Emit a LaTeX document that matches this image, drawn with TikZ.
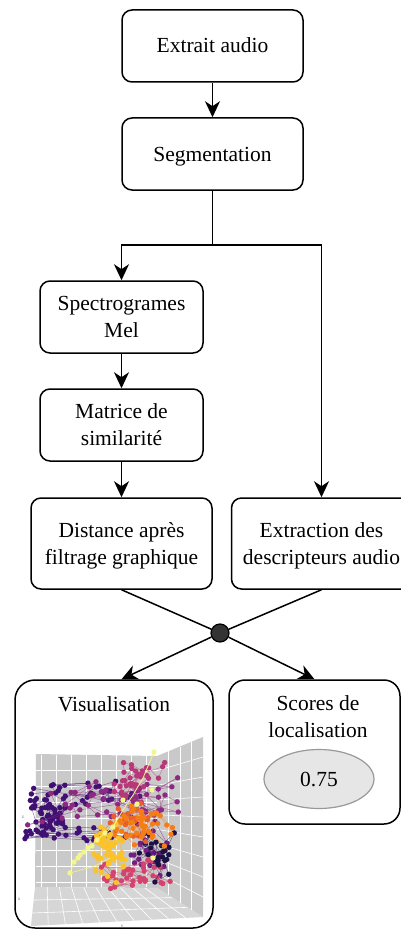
\documentclass[tikz,border=0pt]{standalone}
\usepackage{fontspec}
\setmainfont{Liberation Serif}
\usetikzlibrary{arrows.meta,shapes.geometric,calc}
\definecolor{hubgray}{HTML}{333333}
\definecolor{ellfill}{HTML}{E6E6E6}
\definecolor{ellline}{HTML}{999999}
\definecolor{panelgray}{HTML}{C9C9C9}
\definecolor{floorgray}{HTML}{D6D6D6}
\definecolor{axisblue}{HTML}{6070A0}
\definecolor{cdark}{HTML}{3F0F72}
\definecolor{cpurple}{HTML}{721F81}
\definecolor{cmagenta}{HTML}{8C2981}
\definecolor{cpink}{HTML}{B73779}
\definecolor{ccrimson}{HTML}{D3436E}
\definecolor{cblack}{HTML}{1C1044}
\definecolor{corange}{HTML}{F57D15}
\definecolor{cred}{HTML}{E65D2F}
\definecolor{cyellow}{HTML}{FCC229}
\definecolor{cpale}{HTML}{F3F68B}
\newcommand\tstrut{\rule[-5pt]{0pt}{24pt}}
\newcommand\netwalk[6]{% color, cx, cy, sx, sy, n
  \xdef\wpx{#2}\xdef\wpy{#3}%
  \foreach \k in {1,...,#6}{%
    \pgfmathsetmacro\wnx{#2+0.6*(\wpx-#2)+#4*rand}%
    \pgfmathsetmacro\wny{#3+0.6*(\wpy-#3)+#5*rand}%
    \draw[draw=#1,line width=0.5pt,opacity=0.55] (\wpx,\wpy) -- (\wnx,\wny);
    \fill[#1] (\wnx,\wny) circle[radius=2.7pt];
    \xdef\wpx{\wnx}\xdef\wpy{\wny}%
  }%
}
\tikzset{
  stepbox/.style={draw=black, line width=1.5pt, rounded corners=10pt, inner sep=0pt,
    align=center, fill=white, font=\fontsize{21.5pt}{27pt}\selectfont},
  plaintext/.style={align=center, inner sep=0pt, font=\fontsize{21.5pt}{27pt}\selectfont},
  conn/.style={line width=1.5pt, draw=black},
  arr/.style={conn, -{Stealth[length=16pt,width=15pt,inset=5pt]}},
  gridline/.style={draw=white, line width=0.6pt},
  axislab/.style={font=\fontsize{5pt}{6pt}\selectfont, text=axisblue, inner sep=0pt}
}
\begin{document}
\begin{tikzpicture}[x=1pt,y=-1pt]
\useasboundingbox (0,0) rectangle (401,931);
\pgfmathsetseed{7}
% boxes
\node[stepbox, minimum width=181pt, minimum height=72pt] (extrait) at (212.5,46) {\tstrut Extrait audio};
\node[stepbox, minimum width=181pt, minimum height=72pt] (seg) at (212.5,154) {\tstrut Segmentation};
\node[stepbox, minimum width=163pt, minimum height=72pt] (spec) at (121.5,317) {\tstrut Spectrogrames\\\tstrut Mel};
\node[stepbox, minimum width=163pt, minimum height=72pt] (mat) at (121.5,425) {\tstrut Matrice de\\\tstrut similarité};
\node[stepbox, minimum width=181pt, minimum height=91pt] (dist) at (121.5,543.5) {\tstrut Distance après\\\tstrut filtrage graphique};
\node[stepbox, minimum width=180pt, minimum height=91pt] (extr) at (321.5,543.5) {\tstrut Extraction des\\\tstrut descripteurs audio};
\coordinate (split) at (212.5,245);
\node[circle, draw=black, fill=hubgray, line width=1.2pt, minimum size=18pt, inner sep=0pt] (hub) at (220,633) {};
\node[stepbox, rounded corners=20pt, minimum width=198pt, minimum height=248pt] (vis) at (114,804) {};
\node[stepbox, rounded corners=16pt, minimum width=171pt, minimum height=144pt] (score) at (314.5,752) {};
\node[plaintext] (vistitle) at (114,704) {\tstrut Visualisation};
\node[plaintext] (scoretitle) at (318,717) {\tstrut Scores de\\\tstrut localisation};
\node[ellipse, draw=ellline, fill=ellfill, line width=1.2pt, minimum width=110pt, minimum height=59pt, inner sep=0pt, font=\fontsize{21.5pt}{27pt}\selectfont] (val) at (319,779) {\tstrut 0.75};
% connectors
\draw[arr] (extrait) -- (seg);
\draw[conn] (seg) -- (split);
\draw[arr] (split) -| (spec.north);
\draw[arr] (split) -| (extr.north);
\draw[arr] (spec) -- (mat);
\draw[arr] (mat) -- (dist);
\draw[conn] (dist.south) -- (hub);
\draw[conn] (extr.south) -- (hub);
\draw[arr] (hub) -- (vis.north -| dist.south);
\draw[arr] (hub) -- (score.north);
% plot panel
\fill[panelgray] (36,754) -- (157,756) -- (157,888) -- (35,887) -- cycle;
\fill[panelgray] (157,756) -- (203,737) -- (203,917) -- (157,888) -- cycle;
\fill[floorgray] (35,887) -- (157,888) -- (203,917) -- (31,926) -- cycle;
\foreach \gx in {41,56,...,146} \draw[gridline] (\gx,755) -- (\gx,887);
\foreach \gy in {770,786,...,882} \draw[gridline] (36,\gy) -- (157,\gy);
\foreach \t in {1,2,3} \draw[gridline] ({157+46*\t/4},{756-19*\t/4}) -- ({157+46*\t/4},{888+29*\t/4});
\foreach \s in {1,...,8} \draw[gridline] (157,{756+132*\s/9}) -- (203,{737+180*\s/9});
\foreach \t in {1,...,9} \draw[gridline] ({35+122*\t/10},{887+\t/10}) -- ({31+172*\t/10},{926-9*\t/10});
\foreach \s in {1,2} \draw[gridline] ({35-4*\s/3},{887+39*\s/3}) -- ({157+46*\s/3},{888+29*\s/3});
\node[axislab] (zlab) at (23,817) {z};
\node[axislab] (xlab) at (19,899) {x};
\node[axislab] (ylab) at (122,927) {y};
% network
\netwalk{cdark}{50}{812}{14}{14}{55}
\netwalk{cdark}{85}{793}{40}{8}{30}
\netwalk{cdark}{70}{833}{40}{5}{25}
\netwalk{cmagenta}{105}{798}{45}{18}{55}
\netwalk{cpink}{138}{776}{18}{15}{35}
\netwalk{cpurple}{150}{845}{18}{20}{25}
\netwalk{ccrimson}{128}{873}{25}{12}{40}
\netwalk{cblack}{160}{852}{14}{20}{25}
\netwalk{cred}{130}{822}{18}{14}{25}
\netwalk{corange}{135}{825}{20}{15}{45}
\netwalk{cyellow}{112}{850}{14}{18}{50}
% pale yellow strand
\draw[cpale, line width=0.8pt] (70,873) -- (74,862) -- (80,855) -- (88,848) -- (97,840) -- (105,833) -- (113,827) -- (123,810) -- (133,795) -- (143,778) -- (154,752);
\draw[cpale, line width=0.6pt] (70,873) -- (95,866) -- (110,858);
\foreach \p in {(70,873),(74,862),(78,858),(80,855),(84,852),(88,848),(92,846),(97,840),(105,833),(113,827),(123,800),(152,790),(154,752),(153,858),(137,804)}
  \fill[cpale] \p circle[radius=2.7pt];
\end{tikzpicture}
\end{document}
